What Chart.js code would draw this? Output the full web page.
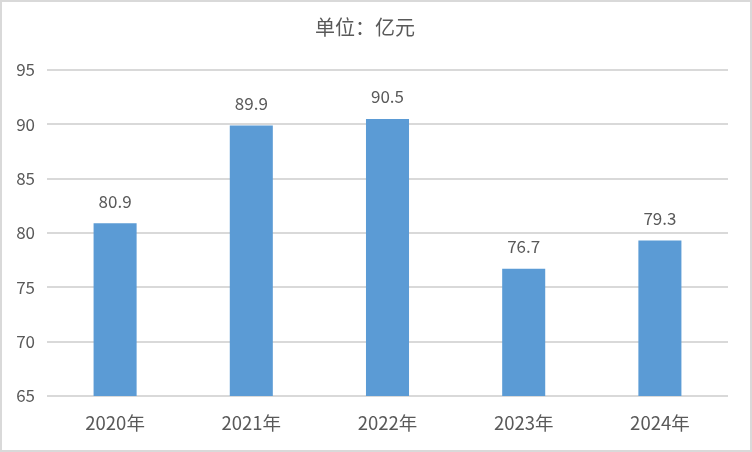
<!DOCTYPE html>
<html>
<head>
<meta charset="utf-8">
<script src="https://cdn.jsdelivr.net/npm/chart.js@4"></script>
<style>
    html, body { margin: 0; padding: 0; background: #fff; }
    #wrap { width: 752px; height: 452px; box-sizing: border-box; border: 2px solid #d9d9d9; position: relative; }
</style>
</head>
<body>
<div id="wrap"><canvas id="barChart"></canvas></div>
<script>
const categories = ['2020年', '2021年', '2022年', '2023年', '2024年'];
const values = [80.9, 89.9, 90.5, 76.7, 79.3];
const yTicks = [65, 70, 75, 80, 85, 90, 95];
const titleText = '单位：亿元';

const textColor = '#595959';
const fontFamily = '"Noto Sans CJK SC", "Noto Sans", sans-serif';

// draw the value above each bar
const valueLabels = {
    id: 'valueLabels',
    afterDatasetsDraw(chart) {
        const ctx = chart.ctx;
        const meta = chart.getDatasetMeta(0);
        ctx.save();
        ctx.font = '17px ' + fontFamily;
        ctx.fillStyle = textColor;
        ctx.textAlign = 'center';
        ctx.textBaseline = 'middle';
        meta.data.forEach(function(bar, i) {
            ctx.fillText(values[i].toFixed(1), bar.x, bar.y - 22);
        });
        ctx.restore();
    }
};

const ctx = document.getElementById('barChart').getContext('2d');
const myChart = new Chart(ctx, {
    type: 'bar',
    data: {
        labels: categories,
        datasets: [{
            data: values,
            backgroundColor: '#5b9bd5',
            categoryPercentage: 1,
            barPercentage: 0.316
        }]
    },
    options: {
        responsive: true,
        maintainAspectRatio: false,
        animation: false,
        layout: { padding: { left: 0, right: 22, top: 0, bottom: 0 } },
        plugins: {
            legend: { display: false },
            tooltip: { enabled: false },
            title: {
                display: true,
                text: titleText,
                color: textColor,
                font: { family: fontFamily, size: 20, weight: 'normal' },
                padding: { top: 13, bottom: 31 }
            }
        },
        scales: {
            x: {
                grid: { display: false, drawTicks: false },
                border: { display: false },
                ticks: {
                    color: textColor,
                    font: { family: fontFamily, size: 18.5 },
                    padding: 16
                },
                afterFit: function(scale) { scale.height = 54; }
            },
            y: {
                min: 65,
                max: 95,
                afterBuildTicks: function(scale) {
                    scale.ticks = yTicks.map(function(v) { return { value: v }; });
                },
                grid: { color: '#d9d9d9', lineWidth: 2, drawTicks: false },
                border: { display: false },
                ticks: {
                    color: textColor,
                    font: { family: fontFamily, size: 17 },
                    padding: 12
                },
                afterFit: function(scale) { scale.width = 45; }
            }
        }
    },
    plugins: [valueLabels]
});
</script>
</body>
</html>
